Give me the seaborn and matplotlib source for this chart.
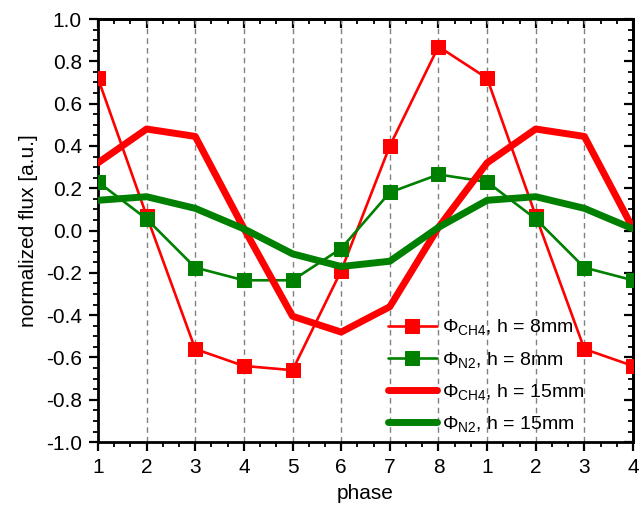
import matplotlib
matplotlib.use("Agg")
import matplotlib.pyplot as plt
import seaborn as sns
import numpy as np
import pandas as pd
from matplotlib.ticker import MultipleLocator, AutoMinorLocator, FuncFormatter

# ---- data ----
phase_labels = ["1", "2", "3", "4", "5", "6", "7", "8", "1", "2", "3", "4"]
ch4_8mm = [0.72, 0.07, -0.56, -0.64, -0.66, -0.19, 0.40, 0.87, 0.72, 0.07, -0.56, -0.64]
n2_8mm = [0.23, 0.055, -0.175, -0.235, -0.235, -0.085, 0.18, 0.265, 0.23, 0.055, -0.175, -0.235]
ch4_15mm = [0.32, 0.48, 0.445, 0.01, -0.405, -0.48, -0.36, 0.015, 0.32, 0.48, 0.445, 0.01]
n2_15mm = [0.143, 0.16, 0.105, 0.008, -0.11, -0.17, -0.145, 0.015, 0.143, 0.16, 0.105, 0.008]

sns.set_style("white")
plt.rcParams['font.family'] = ['Liberation Sans', 'DejaVu Sans']
plt.rcParams['mathtext.fontset'] = 'custom'
plt.rcParams['mathtext.rm'] = 'Liberation Sans'
plt.rcParams['mathtext.it'] = 'Liberation Sans'
plt.rcParams['mathtext.bf'] = 'Liberation Sans'
plt.rcParams['xtick.bottom'] = True
plt.rcParams['ytick.left'] = True
plt.rcParams['xtick.color'] = 'black'
plt.rcParams['ytick.color'] = 'black'
plt.rcParams['text.color'] = 'black'
plt.rcParams['axes.labelcolor'] = 'black'

fig = plt.figure(figsize=(6.42, 5.07), dpi=100)
ax = fig.add_axes([0.1526, 0.128, 0.8334, 0.8345])

xpos = np.arange(len(phase_labels))
red = "#FF0000"
green = "#008000"

sns.lineplot(x=xpos, y=ch4_8mm, ax=ax, color=red, lw=1.9, marker="s", markersize=10,
             markeredgecolor=red, label=r"$\Phi_{\mathrm{CH4}}$, h = 8mm", zorder=3)
sns.lineplot(x=xpos, y=n2_8mm, ax=ax, color=green, lw=1.9, marker="s", markersize=10,
             markeredgecolor=green, label=r"$\Phi_{\mathrm{N2}}$, h = 8mm", zorder=3)
sns.lineplot(x=xpos, y=ch4_15mm, ax=ax, color=red, lw=5, label=r"$\Phi_{\mathrm{CH4}}$, h = 15mm", zorder=3)
sns.lineplot(x=xpos, y=n2_15mm, ax=ax, color=green, lw=5, label=r"$\Phi_{\mathrm{N2}}$, h = 15mm", zorder=3)

ax.set_xlim(0, 11)
ax.set_ylim(-1.0, 1.0)
ax.set_xticks(xpos)
ax.set_xticklabels(phase_labels)
ax.xaxis.set_minor_locator(AutoMinorLocator(3))
ax.yaxis.set_major_locator(MultipleLocator(0.2))
ax.yaxis.set_minor_locator(MultipleLocator(0.05))
ax.yaxis.set_major_formatter(FuncFormatter(lambda v, p: "%.1f" % (0.0 if abs(v) < 1e-9 else v)))

for x in xpos[1:-1]:
    ax.axvline(x, color="#808080", lw=1.0, ls=(0, (4, 3)), zorder=1)

for s in ax.spines.values():
    s.set_linewidth(2.0)
    s.set_color("black")

ax.tick_params(axis="both", which="major", direction="out", length=6.5, width=1.6,
               labelsize=15, pad=5, bottom=True, left=True, colors="black")
ax.tick_params(axis="both", which="minor", direction="out", length=3.5, width=1.3,
               bottom=True, left=True, colors="black")

secx = ax.secondary_xaxis('top')
secx.set_xticks(xpos)
secx.xaxis.set_minor_locator(AutoMinorLocator(3))
secx.tick_params(which="major", direction="in", length=6.5, width=1.6, top=True, labeltop=False, colors="black")
secx.tick_params(which="minor", direction="in", length=3.5, width=1.3, top=True, colors="black")
secy = ax.secondary_yaxis('right')
secy.yaxis.set_major_locator(MultipleLocator(0.2))
secy.yaxis.set_minor_locator(MultipleLocator(0.05))
secy.tick_params(which="major", direction="in", length=6.5, width=1.6, right=True, labelright=False, colors="black")
secy.tick_params(which="minor", direction="in", length=3.5, width=1.3, right=True, colors="black")
for sa in (secx, secy):
    for s in sa.spines.values():
        s.set_linewidth(2.0)
        s.set_color("black")

ax.set_xlabel("phase", fontsize=15, labelpad=5)
ax.set_ylabel("normalized flux [a.u.]", fontsize=15, labelpad=6)

leg = ax.legend(loc="lower left", bbox_to_anchor=(0.542, 0.02), frameon=False, fontsize=14,
                handlelength=2.5, handletextpad=0.3, labelspacing=0.62, borderaxespad=0.0,
                borderpad=0.0)

fig.savefig("out.png", dpi=100)
